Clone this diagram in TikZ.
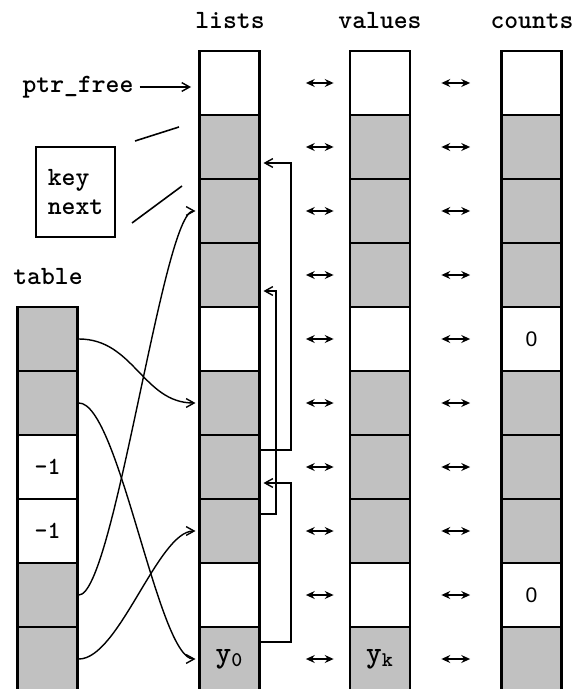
\documentclass[tikz,border=0pt]{standalone}
\usepackage{fontspec}
\newfontfamily\cntfont{Liberation Sans}
\usetikzlibrary{positioning,arrows.meta}
\definecolor{cellgray}{RGB}{193,193,193}

\begin{document}
\begin{tikzpicture}[
  x=0.02cm, y=-0.02cm,
  cell/.style={draw, line width=1.6pt, minimum width=1.2cm, minimum height=1.28cm, inner sep=0pt, font=\ttfamily\bfseries\fontsize{14}{16}\selectfont},
  grayc/.style={cell, fill=cellgray},
  whitec/.style={cell, fill=white},
  colname/.style={font=\ttfamily\bfseries\fontsize{15}{17}\selectfont},
  ptr/.style={-{Straight Barb[length=4.5pt,width=5pt]}, line width=0.8pt, shorten >=1.5pt},
  twoway/.style={{Stealth[length=5pt,width=4.5pt]}-{Stealth[length=5pt,width=4.5pt]}, line width=0.9pt}]

\useasboundingbox (0,0) rectangle (575,689);

% column names
\node[colname] (lists) at (230,21) {lists};
\node[colname] (values) at (380,21) {values};
\node[colname] (counts) at (532,21) {counts};
\node[colname] (table) at (48,277) {table};

% lists and values
\foreach \i/\s in {0/whitec,1/grayc,2/grayc,3/grayc,4/whitec,5/grayc,6/grayc,7/grayc,8/whitec} {
  \node[\s] (L\i) at (229.5,83+64*\i) {};
  \node[\s] (V\i) at (380,83+64*\i) {};
}
\node[grayc, font=\ttfamily\bfseries\fontsize{17}{18}\selectfont] (L9) at (229.5,659) {y\textsubscript{0}};
\node[grayc, font=\ttfamily\bfseries\fontsize{17}{18}\selectfont] (V9) at (380,659) {y\textsubscript{k}};

% counts
\foreach \i/\s in {0/whitec,1/grayc,2/grayc,3/grayc,5/grayc,6/grayc,7/grayc,9/grayc}
  \node[\s] (C\i) at (531.5,83+64*\i) {};
\node[whitec, font=\cntfont\fontsize{12}{14}\selectfont] (C4) at (531.5,339) {0};
\node[whitec, font=\cntfont\fontsize{12}{14}\selectfont] (C8) at (531.5,595) {0};

% table
\foreach \j/\s in {0/grayc,1/grayc,4/grayc,5/grayc}
  \node[\s] (T\j) at (47.5,339+64*\j) {};
\node[whitec] (T2) at (47.5,467) {-1};
\node[whitec] (T3) at (47.5,531) {-1};

% arrows between the columns
\foreach \i in {0,...,9} {
  \draw[twoway] ([xshift=0.9cm]L\i.east) -- ([xshift=-0.3cm]V\i.west);
  \draw[twoway] ([xshift=0.6cm]V\i.east) -- ([xshift=-0.6cm]C\i.west);
}

% free pointer
\node[colname] (ptrfree) at (78,87) {ptr\_free};
\draw[ptr, shorten >=4pt] (ptrfree) -- (ptrfree -| L0.west);

% one entry
\node[draw, line width=1.6pt, minimum width=1.58cm, minimum height=1.8cm, inner sep=0pt,
  align=left, font=\ttfamily\bfseries\fontsize{15}{17}\selectfont] (entry) at (75.5,192) {key\\next};
\coordinate (k1) at (135,141);
\coordinate (k2) at (179,127);
\coordinate (n1) at (132,223);
\coordinate (n2) at (182,186);
\draw[line width=0.9pt] (k1) -- (k2);
\draw[line width=0.9pt] (n1) -- (n2);

% next links
\draw[ptr] ([yshift=0.34cm]L6.east) -- ++(30,0) |- ([yshift=-0.32cm]L1.east);
\draw[ptr] ([yshift=0.34cm]L7.east) -- ++(15,0) |- ([yshift=-0.32cm]L3.east);
\draw[ptr] ([yshift=0.34cm]L9.east) -- ++(30,0) |- ([yshift=-0.32cm]L6.east);

% table heads
\draw[ptr] (T0.east) .. controls +(55,0) and +(-55,0) .. (L5.west);
\draw[ptr] (T1.east) .. controls +(40,0) and +(-40,0) .. (L9.west);
\draw[ptr] (T4.east) .. controls +(35,0) and +(-35,0) .. (L2.west);
\draw[ptr] (T5.east) .. controls +(40,0) and +(-40,0) .. (L7.west);

\end{tikzpicture}
\end{document}
